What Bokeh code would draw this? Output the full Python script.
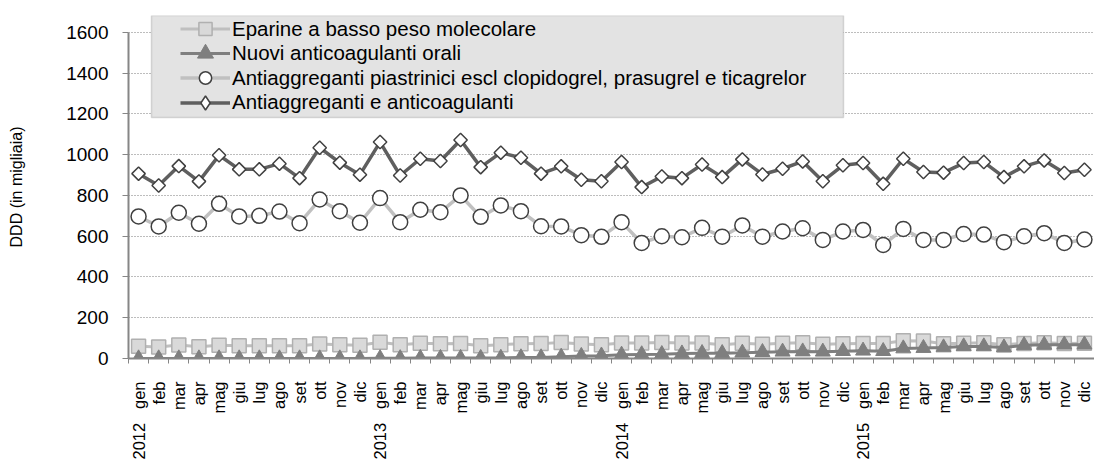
import math
from bokeh.plotting import figure
from bokeh.models import Range1d, FixedTicker, Legend, LegendItem, BoxAnnotation
from bokeh.embed import file_html
from bokeh.resources import INLINE

months = ["gen", "feb", "mar", "apr", "mag", "giu", "lug", "ago", "set", "ott", "nov", "dic"]
years = ["2012", "2013", "2014", "2015"]

eparine = [60, 57, 66, 58, 65, 63, 63, 63, 63, 71, 67, 65,
           80, 68, 75, 72, 74, 63, 68, 72, 73, 79, 71, 68,
           76, 76, 78, 76, 76, 67, 75, 70, 75, 77, 70, 72,
           74, 74, 87, 86, 72, 75, 77, 67, 74, 77, 74, 75]
nuovi = [0, 0, 0, 0, 0, 0, 0, 0, 0, 0, 0, 0,
         1, 1, 2, 2, 2, 2, 3, 5, 5, 8, 12, 14,
         18, 20, 21, 24, 26, 26, 28, 31, 33, 34, 33, 36,
         38, 36, 49, 51, 54, 59, 59, 54, 65, 67, 68, 68]
piastrinici = [697, 648, 715, 661, 759, 697, 700, 721, 664, 780, 723, 666,
               787, 669, 730, 718, 800, 695, 751, 723, 649, 648, 605, 597,
               669, 567, 600, 595, 641, 598, 653, 598, 623, 639, 582, 623,
               631, 557, 636, 582, 582, 611, 608, 571, 600, 615, 567, 584]
totale = [907, 849, 944, 869, 997, 928, 928, 956, 885, 1034, 961, 902,
          1062, 898, 980, 969, 1072, 939, 1010, 985, 907, 943, 877, 870,
          964, 841, 893, 885, 952, 890, 977, 903, 931, 967, 870, 948,
          959, 857, 980, 915, 912, 959, 964, 890, 943, 972, 910, 926]

series_names = ["Eparine a basso peso molecolare",
                "Nuovi anticoagulanti orali",
                "Antiaggreganti piastrinici escl clopidogrel, prasugrel e ticagrelor",
                "Antiaggreganti e anticoagulanti"]
y_ticks = [0, 200, 400, 600, 800, 1000, 1200, 1400, 1600]

n = len(eparine)
xs = list(range(n))
labels = {}
for i in xs:
    m = months[i % 12]
    labels[i] = (years[i // 12] + "\u00a0" * 3 + m) if i % 12 == 0 else m

FONT = "Liberation Sans"
W, H = 1094, 462
LEFT, TOP, BOTTOM = 128, 15, 104
YMAX = 1683
p = figure(width=W, height=H, output_backend="svg", toolbar_location=None,
           x_range=Range1d(-0.5, n - 0.5), y_range=Range1d(0, YMAX),
           min_border_left=LEFT, min_border_right=0, min_border_top=TOP,
           min_border_bottom=BOTTOM)
p.outline_line_color = None
p.background_fill_color = "white"
p.border_fill_color = "white"

# axes
p.xgrid.visible = False
p.yaxis.ticker = FixedTicker(ticks=y_ticks)
p.ygrid.grid_line_color = "#7a7a7a"
p.ygrid.grid_line_dash = "1 2"
p.ygrid.grid_line_width = 1

ya = p.yaxis[0]
ya.bounds = (0, 1600)
ya.axis_line_color = "#868686"
ya.axis_line_width = 2
ya.major_tick_out = 6
ya.major_tick_in = 0
ya.major_tick_line_color = "#868686"
ya.minor_tick_line_color = None
ya.major_label_text_font = FONT
ya.major_label_text_font_size = "19px"
ya.major_label_text_color = "black"
ya.major_label_standoff = 14
ya.axis_label = "DDD (in migliaia)"
ya.axis_label_text_font = FONT
ya.axis_label_text_font_size = "16px"
ya.axis_label_text_font_style = "normal"
ya.axis_label_text_color = "black"
ya.axis_label_standoff = 38

xa = p.xaxis[0]
xa.ticker = FixedTicker(ticks=xs, minor_ticks=[i - 0.5 for i in range(n + 1)])
xa.major_label_overrides = labels
xa.major_label_orientation = math.pi / 2
xa.major_label_text_font = FONT
xa.major_label_text_font_size = "16.5px"
xa.major_label_text_color = "black"
xa.major_label_standoff = 18
xa.major_tick_out = 0
xa.major_tick_in = 0
xa.minor_tick_out = 5
xa.minor_tick_in = 0
xa.minor_tick_line_color = "#868686"
xa.axis_line_color = "#868686"
xa.axis_line_width = 2

# series
l1 = p.line(xs, eparine, line_color="#bfbfbf", line_width=3)
s1 = p.scatter(xs, eparine, marker="square", size=14, fill_color="#d9d9d9",
               line_color="#b0b0b0", line_width=1.5)
l2 = p.line(xs, nuovi, line_color="#7f7f7f", line_width=3)
s2 = p.scatter(xs, nuovi, marker="triangle", size=15, fill_color="#7f7f7f",
               line_color="#7f7f7f", line_width=1)
l3 = p.line(xs, piastrinici, line_color="#c0c0c0", line_width=3.5)
s3 = p.scatter(xs, piastrinici, marker="circle", size=15, fill_color="white",
               line_color="#404040", line_width=1.5)
l4 = p.line(xs, totale, line_color="#5f5f5f", line_width=3.5)
s4 = p.scatter(xs, totale, marker="square", angle=math.pi / 4, size=9.5,
               fill_color="white", line_color="#404040", line_width=1.5)
# legend swatch for the diamond series (legend swatches ignore marker angle)
s4_key = p.scatter(xs, totale, marker="diamond", fill_color="white",
                   line_color="#404040", line_width=1.5, visible=False)

# legend box (layout pixel positions converted to data space)
frame_w = W - LEFT
frame_h = H - TOP - BOTTOM
def px_x(px):
    return -0.5 + (px - LEFT) / frame_w * n
def px_y(py):
    return YMAX - (py - TOP) / frame_h * YMAX

box = BoxAnnotation(left=px_x(151), right=px_x(843), top=px_y(15), bottom=px_y(117),
                    fill_color="#e3e3e3", fill_alpha=1, line_color="#888888",
                    line_width=1.5)
p.add_layout(box)

# one legend per row so that row pitch and swatch size can both be matched
row_centers = [28.5, 53, 77.5, 102]
glyph_heights = [33, 40, 31, 35]
renderers = [(l1, s1), (l2, s2), (l3, s3), (l4, s4_key)]
frame_bottom = H - BOTTOM
for name, (ln, sc), cy, gh in zip(series_names, renderers, row_centers, glyph_heights):
    lg = Legend(items=[LegendItem(label=name, renderers=[ln, sc])],
                location=(180 - LEFT, frame_bottom - (cy + gh / 2)),
                padding=0, margin=0, spacing=0, glyph_width=50, glyph_height=gh,
                label_height=gh, label_standoff=2,
                label_text_font=FONT, label_text_font_size="20.5px",
                label_text_color="black",
                background_fill_alpha=0, border_line_alpha=0)
    p.add_layout(lg)

open("out.html", "w").write(file_html(p, INLINE))
